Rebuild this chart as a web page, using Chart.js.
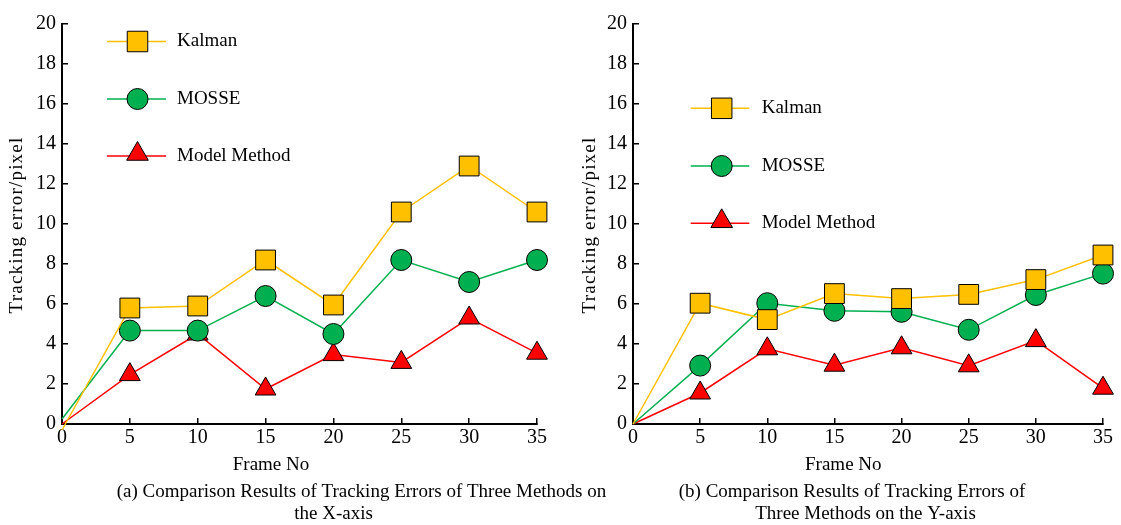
<!DOCTYPE html>
<html>
<head>
<meta charset="utf-8">
<script src="https://cdn.jsdelivr.net/npm/chart.js@4.4.1/dist/chart.umd.min.js"></script>
<style>
  html, body { margin: 0; padding: 0; background: #fff; }
  #wrap { position: relative; width: 1121px; height: 525px; overflow: hidden; }
  .box { position: absolute; top: 0; height: 525px; }
  #boxA { left: 0; width: 620px; }
  #boxB { left: 560px; width: 561px; }
</style>
</head>
<body>
<div id="wrap">
  <div class="box" id="boxA"><canvas id="chartA" width="620" height="525"></canvas></div>
  <div class="box" id="boxB"><canvas id="chartB" width="561" height="525"></canvas></div>
</div>
<script>
// frame numbers on the x axis
const frames = [0, 5, 10, 15, 20, 25, 30, 35];
const names = ['Kalman', 'MOSSE', 'Model Method'];

// (a) X-axis errors
const kalmanX = [-0.3, 5.8, 5.9, 8.2, 5.95, 10.6, 12.9, 10.6];
const mosseX  = [0.25, 4.67, 4.67, 6.4, 4.5, 8.2, 7.1, 8.2];
const modelX  = [0, 2.47, 4.5, 1.75, 3.47, 3.08, 5.3, 3.54];

// (b) Y-axis errors
const kalmanY = [0, 6.04, 5.22, 6.52, 6.27, 6.48, 7.22, 8.45];
const mosseY  = [0, 2.92, 6.04, 5.66, 5.61, 4.71, 6.45, 7.52];
const modelY  = [0, 1.55, 3.76, 2.94, 3.81, 2.91, 4.17, 1.79];

const serif = "'Times New Roman', 'Liberation Serif', serif";
const colors = ['#FFC000', '#00B050', '#FF0000'];
const styles = ['rect', 'circle', 'triangle'];
const radii = [14, 10.5, 12];

function markerPath(ctx, style, x, y, r) {
  ctx.beginPath();
  if (style === 'rect') {
    const s = r / Math.SQRT2;
    ctx.rect(x - s, y - s, 2 * s, 2 * s);
  } else if (style === 'circle') {
    ctx.arc(x, y, r, 0, Math.PI * 2);
  } else {
    const a = Math.PI * 2 / 3;
    ctx.moveTo(x, y - r);
    ctx.lineTo(x + Math.sin(a) * r, y - Math.cos(a) * r);
    ctx.lineTo(x + Math.sin(2 * a) * r, y - Math.cos(2 * a) * r);
    ctx.closePath();
  }
}

const overlay = {
  id: 'overlay',
  afterDraw(chart, args, o) {
    const ctx = chart.ctx;
    ctx.save();
    const lg = o.legend;
    names.forEach((n, i) => {
      const y = lg.rows[i];
      ctx.strokeStyle = colors[i];
      ctx.lineWidth = 1.5;
      ctx.beginPath();
      ctx.moveTo(lg.x1, y);
      ctx.lineTo(lg.x2, y);
      ctx.stroke();
      const r = [14.5, 10.5, 12.5][i];
      markerPath(ctx, styles[i], lg.mx, i === 2 ? y - 2 : y, r);
      ctx.fillStyle = colors[i];
      ctx.fill();
      ctx.strokeStyle = '#000';
      ctx.lineWidth = 1;
      ctx.stroke();
      ctx.fillStyle = '#000';
      ctx.font = '19px ' + serif;
      ctx.textAlign = 'left';
      ctx.textBaseline = 'middle';
      ctx.fillText(n, lg.tx, y);
    });
    ctx.fillStyle = '#000';
    ctx.textAlign = 'center';
    ctx.textBaseline = 'middle';
    ctx.font = '19px ' + serif;
    o.texts.forEach(t => ctx.fillText(t.text, t.x, t.y));

    // y axis title, a little spaced out like the original
    const area = chart.chartArea;
    ctx.translate(o.yTitleX, (area.top + area.bottom) / 2 + 1);
    ctx.rotate(-Math.PI / 2);
    ctx.letterSpacing = '1.2px';
    ctx.fillText('Tracking error/pixel', 0, 0);
    ctx.restore();
  }
};

function makeChart(id, data, cfg) {
  const datasets = data.map((vals, i) => ({
    label: names[i],
    data: frames.map((f, j) => ({ x: f, y: vals[j] })),
    borderColor: colors[i],
    backgroundColor: colors[i],
    borderWidth: 1.5,
    pointStyle: styles[i],
    pointRadius: c => c.dataIndex === 0 ? 0 : radii[i],
    pointHoverRadius: c => c.dataIndex === 0 ? 0 : radii[i],
    pointBorderColor: '#000',
    pointBorderWidth: 1,
    pointBackgroundColor: colors[i],
    tension: 0,
    clip: false
  }));
  return new Chart(document.getElementById(id), {
    type: 'line',
    data: { datasets },
    options: {
      responsive: false,
      animation: false,
      events: [],
      layout: { padding: { top: 17, right: cfg.padRight, left: 0, bottom: 0 } },
      plugins: {
        legend: { display: false },
        tooltip: { enabled: false },
        overlay: { legend: cfg.legend, texts: cfg.texts, yTitleX: cfg.yTitleX }
      },
      scales: {
        x: {
          type: 'linear', min: 0, max: 35,
          ticks: { stepSize: 5, color: '#000', font: { family: serif, size: 20 }, padding: 8, maxRotation: 0 },
          grid: { drawOnChartArea: false, drawTicks: true, tickLength: -6, color: '#000', lineWidth: 1.5 },
          border: { display: true, color: '#000', width: 2 },
          afterFit: s => { s.height = 101; }
        },
        y: {
          min: 0, max: 20,
          ticks: { stepSize: 2, color: '#000', font: { family: serif, size: 20 }, padding: 12 },
          grid: { drawOnChartArea: false, drawTicks: true, tickLength: -6, color: '#000', lineWidth: 1.5 },
          border: { display: true, color: '#000', width: 2 },
          afterFit: s => { s.width = cfg.yWidth; }
        }
      }
    },
    plugins: [overlay]
  });
}

makeChart('chartA', [kalmanX, mosseX, modelX], {
  padRight: 83, yWidth: 62, yTitleX: 17,
  legend: { x1: 107, x2: 166, mx: 137.5, tx: 177, rows: [41.5, 99, 156] },
  texts: [
    { text: 'Frame No', x: 271, y: 465 },
    { text: '(a) Comparison Results of Tracking Errors of Three Methods on', x: 361.5, y: 492 },
    { text: 'the X-axis', x: 333.5, y: 514 }
  ]
});

makeChart('chartB', [kalmanY, mosseY, modelY], {
  padRight: 12, yWidth: 73, yTitleX: 30,
  legend: { x1: 130.7, x2: 189.3, mx: 161.7, tx: 201.7, rows: [108.3, 166, 223.3] },
  texts: [
    { text: 'Frame No', x: 283.3, y: 465 },
    { text: '(b) Comparison Results of Tracking Errors of', x: 292, y: 492 },
    { text: 'Three Methods on the Y-axis', x: 305.5, y: 514 }
  ]
});
</script>
</body>
</html>
